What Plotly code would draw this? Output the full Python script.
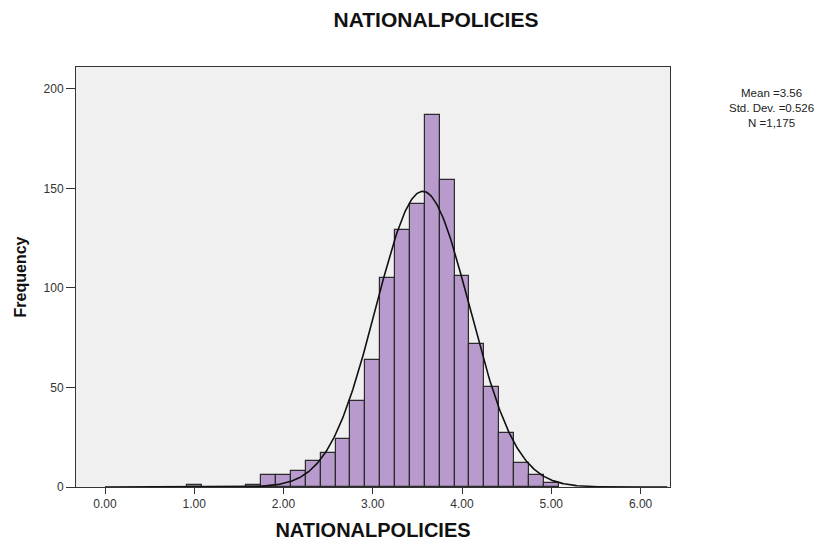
import numpy as np
import plotly.graph_objects as go

# Histogram bins (centers, width 1/6) and counts
bin_centers = [6/6, 10/6, 11/6, 12/6, 13/6, 14/6, 15/6, 16/6, 17/6, 18/6, 19/6,
               20/6, 21/6, 22/6, 23/6, 24/6, 25/6, 26/6, 27/6, 28/6, 29/6, 30/6]
counts = [1, 1, 6, 6, 8, 13, 17, 24, 43, 64, 105,
          129, 142, 187, 154, 106, 72, 50, 27, 12, 6, 2]
bin_width = 1/6

mean_val = 3.56
std_val = 0.526
n_val = 1175

x_ticks = [0, 1, 2, 3, 4, 5, 6]
x_tick_labels = ["0.00", "1.00", "2.00", "3.00", "4.00", "5.00", "6.00"]
y_ticks = [0, 50, 100, 150, 200]
stats_lines = [f"Mean ={mean_val:.2f}", f"Std. Dev. ={std_val:.3f}", f"N ={n_val:,}"]

# Normal curve scaled to the histogram
xc = np.linspace(0, 6.3, 600)
yc = n_val * bin_width * np.exp(-0.5 * ((xc - mean_val) / std_val) ** 2) / (std_val * np.sqrt(2 * np.pi))

fig = go.Figure()
fig.add_trace(go.Bar(
    x=bin_centers, y=counts, width=bin_width,
    marker=dict(color="#B89BCC", line=dict(color="#2b2b2b", width=1.2)),
    showlegend=False,
))
fig.add_trace(go.Scatter(
    x=xc, y=yc, mode="lines",
    line=dict(color="#111111", width=1.6),
    showlegend=False, hoverinfo="skip",
))

font_family = "Liberation Sans, Arial, sans-serif"

L, R, T, B = 76, 670, 67, 487

fig.update_layout(
    width=840, height=542,
    margin=dict(l=L, r=840 - R, t=T, b=542 - B),
    paper_bgcolor="white",
    plot_bgcolor="#F0F0F0",
    font=dict(family=font_family, color="#222222"),
    bargap=0,
    title=dict(text="<b>NATIONALPOLICIES</b>", x=436/840, xanchor="center",
               y=1 - 20/542, yanchor="middle",
               font=dict(size=21, color="#111111", family=font_family)),
    xaxis=dict(
        range=[-0.325, 6.33],
        tickvals=x_ticks, ticktext=x_tick_labels,
        ticks="outside", ticklen=6, tickcolor="#333333", tickwidth=1,
        tickfont=dict(size=12, color="#333333"),
        showgrid=False, zeroline=False, automargin=False,
        showline=True, linecolor="#333333", linewidth=1, mirror=True,
        title=dict(text="<b>NATIONALPOLICIES</b>", font=dict(size=20, color="#111111"), standoff=12),
    ),
    yaxis=dict(
        range=[0, 211],
        tickvals=y_ticks,
        ticks="outside", ticklen=9, tickcolor="#333333", tickwidth=1,
        tickfont=dict(size=12, color="#333333"),
        showgrid=False, zeroline=False, automargin=False,
        showline=True, linecolor="#333333", linewidth=1, mirror=True,
        title=dict(text="<b>Frequency</b>", font=dict(size=16, color="#111111"), standoff=12),
    ),
    annotations=[dict(
        text="<br>".join(stats_lines),
        xref="paper", yref="paper",
        x=(771 - L) / (R - L), y=1 - (108 - T) / (B - T),
        xanchor="center", yanchor="middle", showarrow=False, align="center",
        font=dict(size=11.5, color="#222222", family=font_family),
    )],
)

fig.write_html("out.html")
